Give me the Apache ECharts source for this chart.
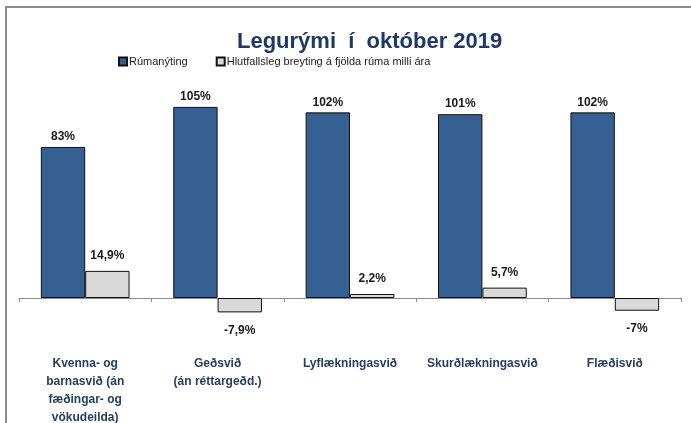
<!DOCTYPE html>
<html>
<head>
<meta charset="utf-8">
<script src="https://cdn.jsdelivr.net/npm/echarts@6/dist/echarts.min.js"></script>
<style>
  html, body { margin: 0; padding: 0; background: #fff; }
  #wrap { position: relative; width: 691px; height: 423px; }
  #chart { width: 691px; height: 423px; }
  #frame {
    position: absolute; left: 5px; top: 6px; right: -2px; bottom: -2px;
    border-left: 2px solid #8c8c8c; border-top: 2px solid #8c8c8c;
    pointer-events: none;
  }
</style>
</head>
<body>
<div id="wrap">
  <div id="chart"></div>
  <div id="frame"></div>
</div>
<script>
  // flokkar (svið)
  const categories = [
    'Kvenna- og\nbarnasvið (án\nfæðingar- og\nvökudeilda)',
    'Geðsvið\n(án réttargeðd.)',
    'Lyflækningasvið',
    'Skurðlækningasvið',
    'Flæðisvið'
  ]
  // Rúmanýting í %
  const rumanyting = [83, 105, 102, 101, 102]
  // Hlutfallsleg breyting á fjölda rúma milli ára í %
  const breyting = [14.9, -7.9, 2.2, 5.7, -7]

  const seriesNames = ['Rúmanýting', 'Hlutfallsleg breyting á fjölda rúma milli ára']

  const fontFamily = '"Liberation Sans", Arial, sans-serif'

  // íslensk kommutala
  const fmt = (v) => String(v).replace('.', ',') + '%'

  const chart = echarts.init(document.getElementById('chart'))

  const option = {
    animation: false,
    textStyle: { fontFamily },
    title: {
      text: 'Legurými  í  október 2019',
      left: 232,
      top: 26,
      textStyle: { fontSize: 22, fontWeight: 'bold', color: '#1F3864', fontFamily }
    },
    legend: {
      left: 118,
      top: 56,
      padding: 0,
      itemWidth: 8,
      itemHeight: 8,
      itemGap: 28,
      icon: 'rect',
      textStyle: { fontSize: 11, color: '#222', padding: [0, 0, 0, -3] },
      data: seriesNames
    },
    grid: {
      left: 19, right: 10, top: 79.6, bottom: 88.6,
      outerBoundsMode: 'none',
      containLabel: false
    },
    xAxis: {
      type: 'category',
      data: categories,
      axisLine: { onZero: true, lineStyle: { color: '#8c8c8c', width: 1 } },
      axisTick: { show: true, length: 4, lineStyle: { color: '#8c8c8c' } },
      axisLabel: {
        interval: 0,
        margin: 20,
        fontSize: 12,
        fontWeight: 'bold',
        color: '#243F60',
        lineHeight: 18,
        verticalAlign: 'top'
      }
    },
    yAxis: {
      type: 'value',
      min: -20,
      max: 120,
      interval: 20,
      show: false,
      splitLine: { show: false }
    },
    series: [
      {
        name: seriesNames[0],
        type: 'bar',
        barGap: 0,
        barCategoryGap: '33%',
        itemStyle: { color: '#376092', borderColor: '#111', borderWidth: 1 },
        label: {
          show: true,
          position: 'top',
          distance: 4,
          fontSize: 12,
          fontWeight: 'bold',
          color: '#1a1a1a',
          formatter: (p) => fmt(p.value)
        },
        data: rumanyting
      },
      {
        name: seriesNames[1],
        type: 'bar',
        itemStyle: { color: '#D9D9D9', borderColor: '#111', borderWidth: 1 },
        label: {
          show: true,
          fontSize: 12,
          fontWeight: 'bold',
          color: '#1a1a1a',
          formatter: (p) => fmt(p.value)
        },
        data: breyting.map((v) => ({
          value: v,
          label: v < 0
            ? { position: 'bottom', distance: 12 }
            : { position: 'top', distance: 9 }
        }))
      }
    ]
  }

  chart.setOption(option)
</script>
</body>
</html>
